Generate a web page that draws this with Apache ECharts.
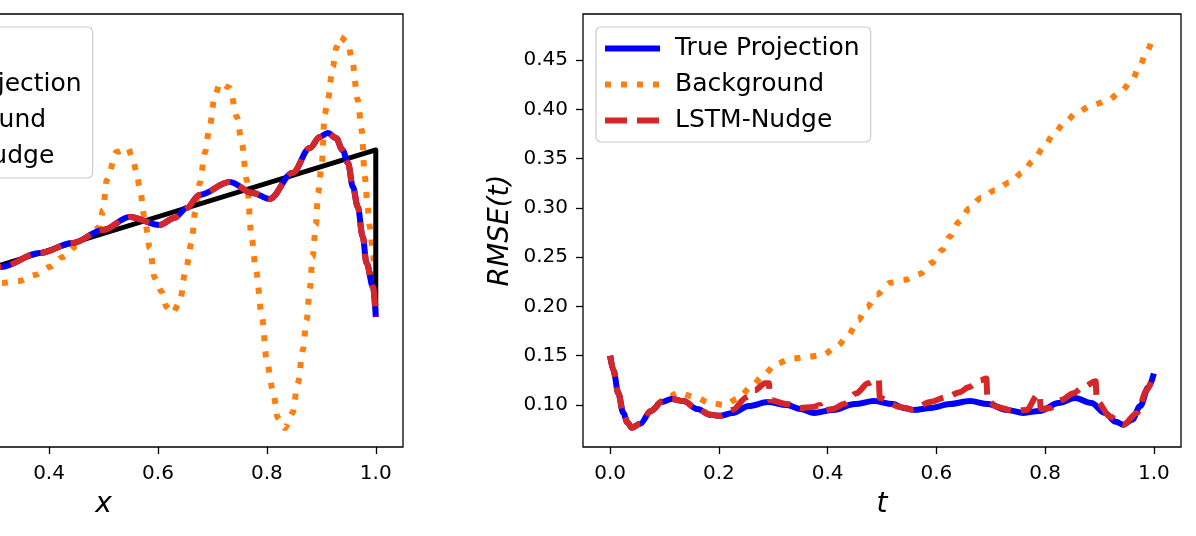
<!DOCTYPE html>
<html>
<head>
<meta charset="utf-8">
<script src="https://cdn.jsdelivr.net/npm/echarts@6/dist/echarts.min.js"></script>
<style>html,body{margin:0;padding:0;background:#fff}#c{width:1196px;height:536px}</style>
</head>
<body>
<div id="c"></div>
<script>
// ---------------- DATA ----------------
// Left panel: solution profiles over x
const truthX = [0, 1, 1];
const truthY = [0, 1, 0];
const leftProjX = [0, 0.05, 0.1, 0.15, 0.2, 0.25, 0.31, 0.383, 0.443, 0.499, 0.548, 0.603, 0.630, 0.653, 0.676, 0.732, 0.774, 0.805, 0.847, 0.879, 0.897, 0.912, 0.927, 0.939, 0.949, 0.958, 0.967, 0.976, 0.983, 0.995, 1.0];
const leftProjY = [0, 0.10, 0.16, 0.15, 0.20, 0.27, 0.299, 0.383, 0.443, 0.521, 0.599, 0.551, 0.593, 0.653, 0.731, 0.808, 0.743, 0.707, 0.862, 1.012, 1.078, 1.102, 1.072, 1.000, 0.922, 0.778, 0.659, 0.480, 0.323, 0.180, 0.0];
const leftNudgeX = [0, 0.05, 0.1, 0.15, 0.2, 0.25, 0.31, 0.383, 0.443, 0.499, 0.548, 0.603, 0.630, 0.653, 0.676, 0.732, 0.774, 0.805, 0.847, 0.879, 0.897, 0.912, 0.927, 0.939, 0.949, 0.958, 0.967, 0.976, 0.983, 0.995, 1.0];
const leftNudgeY = [0, 0.10, 0.16, 0.15, 0.20, 0.27, 0.299, 0.383, 0.443, 0.521, 0.599, 0.551, 0.593, 0.653, 0.731, 0.808, 0.743, 0.707, 0.862, 1.012, 1.078, 1.102, 1.072, 1.000, 0.922, 0.778, 0.659, 0.480, 0.323, 0.180, 0.0];
const leftBgX = [0, 0.05, 0.1, 0.15, 0.2, 0.25, 0.29, 0.315, 0.346, 0.374, 0.401, 0.425, 0.451, 0.471, 0.493, 0.499, 0.506, 0.524, 0.545, 0.554, 0.561, 0.567, 0.576, 0.585, 0.594, 0.607, 0.616, 0.627, 0.640, 0.651, 0.662, 0.668, 0.677, 0.686, 0.695, 0.704, 0.714, 0.732, 0.745, 0.754, 0.763, 0.772, 0.780, 0.791, 0.800, 0.811, 0.820, 0.833, 0.847, 0.857, 0.866, 0.873, 0.879, 0.884, 0.890, 0.894, 0.901, 0.906, 0.912, 0.921, 0.928, 0.934, 0.948, 0.956, 0.967, 0.974, 0.980, 0.985, 0.989, 0.995, 0.998, 1.0];
const leftBgY = [0, 0.12, 0.30, 0.38, 0.30, 0.17, 0.20, 0.204, 0.216, 0.251, 0.299, 0.359, 0.425, 0.479, 0.539, 0.641, 0.820, 0.988, 1.012, 0.940, 0.862, 0.760, 0.581, 0.413, 0.234, 0.150, 0.060, 0.024, 0.090, 0.281, 0.449, 0.623, 0.802, 0.982, 1.138, 1.317, 1.401, 1.371, 1.198, 1.042, 0.820, 0.473, 0.281, 0.0, -0.269, -0.437, -0.605, -0.665, -0.575, -0.395, -0.198, -0.018, 0.174, 0.359, 0.551, 0.743, 0.922, 1.210, 1.299, 1.497, 1.617, 1.677, 1.647, 1.551, 1.299, 1.120, 0.838, 0.659, 0.539, 0.383, 0.204, 0.072];

// Right panel: RMSE(t)
const projT = [0, 0.006, 0.015, 0.024, 0.032, 0.040, 0.055, 0.075, 0.095, 0.113, 0.135, 0.160, 0.185, 0.202, 0.225, 0.255, 0.290, 0.325, 0.350, 0.375, 0.410, 0.450, 0.485, 0.520, 0.540, 0.558, 0.590, 0.625, 0.662, 0.695, 0.730, 0.760, 0.790, 0.825, 0.855, 0.885, 0.910, 0.930, 0.944, 0.960, 0.975, 0.990, 1.0];
const projV = [0.150, 0.135, 0.112, 0.092, 0.082, 0.077, 0.081, 0.094, 0.103, 0.106, 0.104, 0.096, 0.090, 0.089, 0.092, 0.099, 0.103, 0.100, 0.096, 0.092, 0.095, 0.101, 0.104, 0.101, 0.097, 0.095, 0.097, 0.101, 0.104, 0.101, 0.095, 0.092, 0.094, 0.102, 0.107, 0.102, 0.092, 0.083, 0.080, 0.085, 0.099, 0.118, 0.132];
const bgT = [0, 0.006, 0.015, 0.024, 0.032, 0.040, 0.055, 0.075, 0.095, 0.110, 0.125, 0.156, 0.184, 0.211, 0.236, 0.260, 0.282, 0.305, 0.334, 0.365, 0.392, 0.418, 0.438, 0.456, 0.472, 0.490, 0.515, 0.542, 0.570, 0.591, 0.610, 0.625, 0.642, 0.660, 0.682, 0.708, 0.735, 0.759, 0.778, 0.797, 0.815, 0.835, 0.859, 0.886, 0.915, 0.940, 0.960, 0.975, 0.987, 1.0];
const bgV = [0.150, 0.135, 0.112, 0.092, 0.082, 0.077, 0.081, 0.094, 0.104, 0.109, 0.1125, 0.108, 0.102, 0.100, 0.107, 0.119, 0.130, 0.142, 0.147, 0.149, 0.151, 0.160, 0.171, 0.186, 0.199, 0.212, 0.224, 0.227, 0.233, 0.244, 0.257, 0.271, 0.286, 0.299, 0.310, 0.318, 0.326, 0.336, 0.348, 0.361, 0.374, 0.386, 0.397, 0.404, 0.409, 0.418, 0.430, 0.445, 0.459, 0.476];
const nudgeT = [0, 0.006, 0.015, 0.024, 0.032, 0.040, 0.055, 0.075, 0.095, 0.113, 0.135, 0.160, 0.185, 0.202, 0.225, 0.251, 0.266, 0.285, 0.292, 0.294, 0.325, 0.350, 0.373, 0.386, 0.388, 0.410, 0.430, 0.453, 0.474, 0.490, 0.494, 0.496, 0.533, 0.557, 0.588, 0.619, 0.643, 0.659, 0.680, 0.692, 0.694, 0.711, 0.742, 0.766, 0.786, 0.790, 0.792, 0.810, 0.830, 0.852, 0.870, 0.893, 0.895, 0.920, 0.944, 0.969, 0.987, 1.0];
const nudgeV = [0.150, 0.135, 0.112, 0.092, 0.082, 0.077, 0.081, 0.094, 0.103, 0.106, 0.104, 0.096, 0.090, 0.089, 0.095, 0.108, 0.115, 0.122, 0.122, 0.105, 0.101, 0.097, 0.098, 0.100, 0.094, 0.096, 0.101, 0.112, 0.122, 0.126, 0.126, 0.107, 0.098, 0.095, 0.103, 0.108, 0.113, 0.118, 0.125, 0.127, 0.105, 0.098, 0.094, 0.095, 0.110, 0.111, 0.096, 0.097, 0.105, 0.112, 0.118, 0.124, 0.104, 0.088, 0.080, 0.092, 0.115, 0.132];

// Tick labels
const xTicks = [0.0, 0.2, 0.4, 0.6, 0.8, 1.0];
const rmseTicks = [0.10, 0.15, 0.20, 0.25, 0.30, 0.35, 0.40, 0.45];
const leftLegend = ['Truth', 'True Projection', 'Background', 'LSTM-Nudge'];
const rightLegend = ['True Projection', 'Background', 'LSTM-Nudge'];

// ---------------- CHART ----------------
function zip(a, b) { const n = Math.min(a.length, b.length); const r = []; for (let i = 0; i < n; i++) r.push([a[i], b[i]]); return r; }

const FONT = 'DejaVu Sans';
const C = { truth: '#000000', proj: '#0000ff', bg: '#ff7f0e', nudge: '#d62728' };
const LW = 6;

function lineSeries(name, data, color, type, gi, smooth, width) {
  return {
    name: name, type: 'line', xAxisIndex: gi, yAxisIndex: gi, data: data,
    symbol: 'none', showSymbol: false, smooth: smooth, smoothMonotone: 'x',
    lineStyle: { color: color, width: width || LW, type: type, cap: 'butt', join: 'round' },
    itemStyle: { color: color }, animation: false
  };
}

function xAxisCfg(gi) {
  return {
    type: 'value', gridIndex: gi, min: -0.05, max: 1.05,
    axisLine: { show: false, onZero: false },
    splitLine: { show: false },
    axisTick: { show: true, inside: false, length: 7, lineStyle: { color: '#000', width: 1.3 }, customValues: xTicks },
    axisLabel: { show: true, customValues: xTicks, formatter: v => v.toFixed(1), fontSize: 20, fontFamily: FONT, color: '#000', margin: 17 },
    name: gi === 0 ? 'x' : 't', nameLocation: 'middle', nameGap: 44,
    nameTextStyle: { fontSize: 28, fontStyle: 'italic', fontFamily: FONT, color: '#000' }
  };
}

function legendCfg(left, data) {
  return {
    left: left, top: 27, orient: 'vertical', data: data,
    itemWidth: 55, itemHeight: 12, itemGap: 11,
    padding: [9, 11, 9, 6],
    borderColor: '#cccccc', borderWidth: 1.2, borderRadius: 5,
    backgroundColor: 'rgba(255,255,255,0.8)',
    textStyle: { fontSize: 25, fontFamily: FONT, color: '#000', lineHeight: 24, padding: [0, 0, 0, 10] },
    lineStyle: { width: LW },
    itemStyle: { opacity: 0, borderWidth: 0 },
    selectedMode: false
  };
}

const gridBase = { top: 14, width: 599, height: 433, show: true, borderColor: '#000', borderWidth: 1.3, backgroundColor: 'transparent', containLabel: false, outerBoundsMode: 'none' };

const chart = echarts.init(document.getElementById('c'), null, { renderer: 'canvas' });
chart.setOption({
  animation: false,
  backgroundColor: '#ffffff',
  textStyle: { fontFamily: FONT },
  grid: [
    Object.assign({}, gridBase, { left: -196 }),
    Object.assign({}, gridBase, { left: 583, width: 598 })
  ],
  xAxis: [xAxisCfg(0), xAxisCfg(1)],
  yAxis: [
    { type: 'value', gridIndex: 0, min: -0.778, max: 1.814, axisLine: { show: false, onZero: false }, splitLine: { show: false }, axisTick: { show: false }, axisLabel: { show: false } },
    {
      type: 'value', gridIndex: 1, min: 0.0574, max: 0.4967,
      axisLine: { show: false, onZero: false }, splitLine: { show: false },
      axisTick: { show: true, inside: false, length: 7, lineStyle: { color: '#000', width: 1.3 }, customValues: rmseTicks },
      axisLabel: { show: true, customValues: rmseTicks, formatter: v => v.toFixed(2), fontSize: 20, fontFamily: FONT, color: '#000', margin: 15 },
      name: 'RMSE(t)', nameLocation: 'middle', nameGap: 68, nameRotate: 90,
      nameTextStyle: { fontSize: 28, fontStyle: 'italic', fontFamily: FONT, color: '#000' }
    }
  ],
  legend: [legendCfg(-182, leftLegend), legendCfg(596, rightLegend)],
  series: [
    lineSeries('Background', zip(leftBgX, leftBgY), C.bg, [6, 10], 0, 0.3),
    lineSeries('Truth', zip(truthX, truthY), C.truth, 'solid', 0, false, 5),
    lineSeries('True Projection', zip(leftProjX, leftProjY), C.proj, 'solid', 0, 0.35),
    lineSeries('LSTM-Nudge', zip(leftNudgeX, leftNudgeY), C.nudge, [22, 10], 0, 0.35),
    lineSeries('Background', zip(bgT, bgV), C.bg, [6, 10], 1, 0.3),
    lineSeries('True Projection', zip(projT, projV), C.proj, 'solid', 1, 0.35),
    lineSeries('LSTM-Nudge', zip(nudgeT, nudgeV), C.nudge, [22, 10], 1, 0.3)
  ]
});
</script>
</body>
</html>
